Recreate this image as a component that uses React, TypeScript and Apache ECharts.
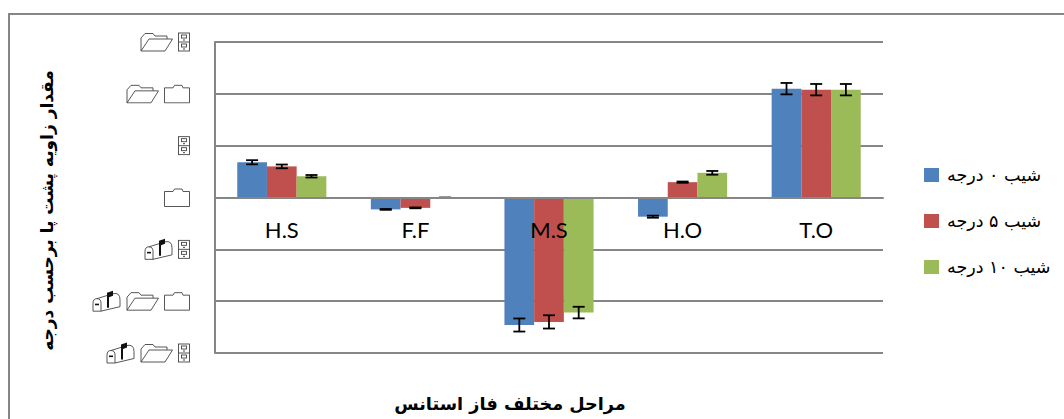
import React, { useEffect, useRef } from "react";
import * as echarts from "echarts";

const categories = ["H.S", "F.F", "M.S", "H.O", "T.O"];
const seriesNames = ["شیب ٠ درجه", "شیب ۵ درجه", "شیب ۱۰ درجه"];
const colors = ["#4F81BD", "#C0504D", "#9BBB59"];
const slope0 = [3.4, -1.15, -12.3, -1.85, 10.5];
const slope5 = [3.0, -1.0, -12.0, 1.48, 10.4];
const slope10 = [2.05, -0.02, -11.1, 2.38, 10.4];
const err0 = [0.2, 0.04, 0.63, 0.1, 0.55];
const err5 = [0.18, 0.04, 0.64, 0.06, 0.55];
const err10 = [0.12, 0.02, 0.56, 0.18, 0.55];
const yTicks: Record<string, string[]> = {
  "15": ["open", "cab"],
  "10": ["open", "folder"],
  "5": ["cab"],
  "0": ["folder"],
  "-5": ["mail", "cab"],
  "-10": ["mail", "open", "folder"],
  "-15": ["mail", "open", "cab"],
};

const stroke = `fill="none" stroke="#444" stroke-width="0.9"`;
const svgUri = (w: number, h: number, body: string) =>
  "data:image/svg+xml;charset=utf-8," +
  encodeURIComponent(
    `<svg xmlns="http://www.w3.org/2000/svg" width="${w}" height="${h}" viewBox="0 0 ${w} ${h}">${body}</svg>`
  );
const icons: Record<string, { w: number; h: number; uri: string }> = {
  open: {
    w: 33,
    h: 20,
    uri: svgUri(33, 20, `<path ${stroke} d="M1 19 L1 6 L5 1.5 L13 1.5 L15 4 L27 4 L27 7"/><path ${stroke} d="M1 19 L9 7 L32.5 7 L25 19 Z"/>`),
  },
  folder: {
    w: 26,
    h: 20,
    uri: svgUri(26, 20, `<path ${stroke} d="M0.5 4 H9 L10.5 1.5 H18 L19 4 H25.5 V19 H0.5 Z"/>`),
  },
  cab: {
    w: 12,
    h: 20,
    uri: svgUri(12, 20, `<rect ${stroke} x="0.5" y="1" width="11" height="18"/><path ${stroke} d="M0.5 10 H11.5"/><rect ${stroke} x="3.5" y="3" width="5" height="3"/><rect ${stroke} x="3.5" y="12" width="5" height="3"/><rect x="5" y="7.5" width="2" height="1" fill="#444"/><rect x="5" y="16.5" width="2" height="1" fill="#444"/>`),
  },
  mail: {
    w: 29,
    h: 23,
    uri: svgUri(29, 23, `<path ${stroke} d="M1 21.5 V13.5 Q1 9 5 9 Q9 9 9 13.5 V21.5 Z"/><path ${stroke} d="M5 9 L21 4 Q28 2.5 28 10 V17 L9 21.5"/><rect x="3" y="14" width="4" height="1.6" fill="#111"/><path fill="#111" d="M15 18 V3 L21 1 V6 L17 7.5 V18 Z"/>`),
  },
};

const tickRich: Record<string, any> = { gap: { width: 5, height: 20 } };
Object.keys(icons).forEach((k) => {
  tickRich[k] = { width: icons[k].w, height: icons[k].h, backgroundColor: { image: icons[k].uri } };
});

const errorSeries = (values: number[], errs: number[], idx: number) => ({
  type: "custom",
  z: 3,
  silent: true,
  encode: { x: 0, y: 1 },
  data: values.map((v, i) => [i, v, v - errs[i], v + errs[i]]),
  renderItem: (_: any, api: any) => {
    const band = api.size([1, 0])[0];
    const barW = band / 4.5;
    const x = api.coord([api.value(0), 0])[0] + (idx - 1) * barW;
    const lo = api.coord([0, api.value(2)])[1];
    const hi = api.coord([0, api.value(3)])[1];
    const cap = 6;
    const st = { stroke: "#000", lineWidth: 1.8, fill: "none" };
    const line = (x1: number, y1: number, x2: number, y2: number) => ({
      type: "line",
      shape: { x1, y1, x2, y2 },
      style: st,
    });
    return {
      type: "group",
      children: [line(x, lo, x, hi), line(x - cap, lo, x + cap, lo), line(x - cap, hi, x + cap, hi)],
    };
  },
});

export default function App() {
  const ref = useRef<HTMLDivElement>(null);
  useEffect(() => {
    document.body.style.margin = "0";
    const chart = echarts.init(ref.current!, undefined, { renderer: "svg" });
    const fa = "DejaVu Sans";
    const bars = [slope0, slope5, slope10].map((d, i) => ({
      type: "bar",
      name: seriesNames[i],
      data: d,
      barGap: "0%",
      barCategoryGap: "33.3%",
      itemStyle: { color: colors[i] },
      z: 2,
    }));
    chart.setOption({
      animation: false,
      backgroundColor: "#fff",
      grid: { left: 215, right: 181, top: 42, bottom: 66, containLabel: false, outerBoundsMode: "none" },
      legend: {
        orient: "vertical",
        left: 919,
        top: 161,
        itemWidth: 15,
        itemHeight: 14,
        itemGap: 28,
        icon: "rect",
        textStyle: { fontFamily: fa, fontSize: 17.5, color: "#000", padding: [0, 0, 0, 3] },
        data: seriesNames,
      },
      xAxis: {
        type: "category",
        data: categories,
        z: 5,
        axisLine: { onZero: true, lineStyle: { color: "#868686", width: 2 } },
        axisTick: { show: false },
        axisLabel: { margin: -135, fontFamily: "Lato", fontSize: 22, color: "#000" },
        name: "مراحل مختلف فاز استانس",
        nameLocation: "middle",
        nameGap: 42,
        nameTextStyle: { fontFamily: fa, fontWeight: "bold", fontSize: 17.7, color: "#000", padding: [0, 78, 0, 0] },
      },
      yAxis: {
        type: "value",
        min: -15,
        max: 15,
        interval: 5,
        z: 1,
        axisLine: { show: true, lineStyle: { color: "#868686", width: 2 } },
        axisTick: { show: false },
        splitLine: { show: true, lineStyle: { color: "#868686", width: 2 } },
        axisLabel: {
          margin: 25,
          align: "right",
          formatter: (v: number) =>
            (yTicks[String(v)] || []).map((k) => `{${k}|}`).join("{gap|}"),
          rich: tickRich,
        },
        name: "مقدار زاویه پشت پا برحسب درجه",
        nameLocation: "middle",
        nameGap: 160,
        nameRotate: 90,
        nameTextStyle: { fontFamily: fa, fontWeight: "bold", fontSize: 17, color: "#000", padding: [0, 26, 0, 0] },
      },
      graphic: [
        {
          type: "polyline",
          shape: { points: [[9, 419], [9, 14], [1064, 14]] },
          style: { stroke: "#868686", lineWidth: 2, fill: "none" },
          silent: true,
        },
      ],
      series: [
        ...bars,
        errorSeries(slope0, err0, 0),
        errorSeries(slope5, err5, 1),
        errorSeries(slope10, err10, 2),
      ],
    });
    return () => chart.dispose();
  }, []);
  return <div ref={ref} style={{ width: 1064, height: 419, overflow: "hidden" }} />;
}
